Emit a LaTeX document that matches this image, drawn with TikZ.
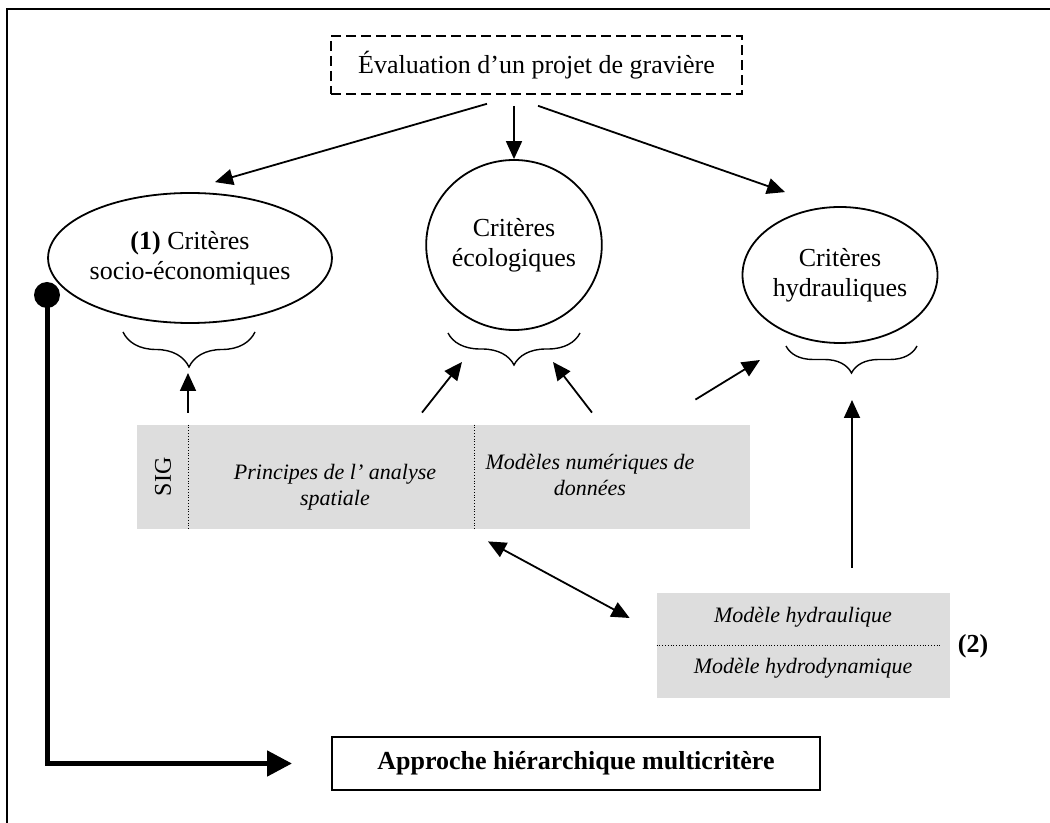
\documentclass[tikz,border=0pt]{standalone}
\usepackage{fontspec}
\setmainfont{Liberation Serif}
\usepackage{xcolor}
\definecolor{sigfill}{RGB}{221,221,221}
\usetikzlibrary{arrows.meta,positioning,shapes.geometric,decorations.pathreplacing,calc}
\tikzset{
  crit/.style={draw,ellipse,line width=0.9pt,inner sep=0pt,align=center,%
    font=\fontsize{13}{15}\selectfont},
  box/.style={draw,line width=0.9pt,inner sep=0pt,align=center,%
    font=\fontsize{13}{15}\selectfont},
  greybox/.style={fill=sigfill,inner sep=0pt},
  model/.style={font=\fontsize{11}{13}\selectfont\itshape,align=center,inner sep=0pt},
  flow/.style={-{Triangle[length=9pt,width=8pt]},line width=0.9pt},
  dflow/.style={{Triangle[length=9pt,width=8pt]}-{Triangle[length=9pt,width=8pt]},line width=0.9pt},
  bigflow/.style={-{Triangle[length=12.5pt,width=12.5pt]},line width=2.5pt},
  brc/.style={decorate,decoration={brace,mirror,amplitude=#1},line width=0.7pt},
}
\begin{document}
\begin{tikzpicture}[x=0.5pt,y=-0.5pt]
\useasboundingbox (0,0) rectangle (1050,823);
\draw[line width=1.2pt] (7,823) -- (7,9) -- (1050,9);

% criteres
\node[box,dash pattern=on 5pt off 2.5pt,line width=0.8pt,minimum width=205.5pt,minimum height=29pt] (eval) at (536.5,65) {Évaluation d’un projet de gravière};
\node[crit,minimum width=118pt,minimum height=65pt] (ell1) at (190,258) {\textbf{(1)} Critères\\socio-économiques};
\node[crit,minimum width=79pt,minimum height=85pt] (ell2) at (514,245) {Critères\\écologiques};
\node[crit,minimum width=97.5pt,minimum height=68pt] (ell3) at (840,275) {Critères\\hydrauliques};

\draw[brc=17.5pt] (123,332) -- (255,332);
\draw[brc=16pt] (448,333) -- (580,333);
\draw[brc=13.5pt] (786,346) -- (917,346);
\coordinate (b1) at (189,367);
\coordinate (b2) at (514,365);
\coordinate (b3) at (852,373);

% SIG
\node[greybox,minimum width=306.5pt,minimum height=52pt] (sig) at (443.5,477) {};
\draw[densely dotted] ([xshift=26pt]sig.north west) -- ([xshift=26pt]sig.south west);
\draw[densely dotted] ([xshift=169pt]sig.north west) -- ([xshift=169pt]sig.south west);
\node[rotate=90,font=\fontsize{12}{14}\selectfont] (sigl) at (163,477) {SIG};
\node[model] (anal) at (335,487) {Principes de l’ analyse\\spatiale};
\node[model] (mnd) at (590,475) {Modèles numériques de\\données};

% modeles
\node[greybox,minimum width=146.5pt,minimum height=52.5pt] (hyd) at (803.5,645.5) {};
\draw[densely dotted] (hyd.west) -- ([xshift=-5pt]hyd.east);
\node[model] (hydr) at (803,617) {Modèle hydraulique};
\node[model] (hydd) at (803,668) {Modèle hydrodynamique};
\node[font=\fontsize{13}{15}\selectfont\bfseries] (two) at (973,646) {(2)};

\node[box,line width=1pt,minimum width=244pt,minimum height=26.5pt,font=\fontsize{13}{15}\selectfont\bfseries] (appr) at (576,763.5) {Approche hiérarchique multicritère};
\node[circle,fill,inner sep=0pt,minimum size=13pt] (dot) at (47,295) {};

\draw[flow] ([shift={(-49.5,9)}]eval.south) -- ([shift={(25,-10)}]ell1.north);
\draw[flow] ([shift={(-22.5,11)}]eval.south) -- (ell2.north);
\draw[flow] ([shift={(1.5,11)}]eval.south) -- ([shift={(-55,-14)}]ell3.north);
\draw[flow] ([shift={(-255.5,-12)}]sig.north) -- ([shift={(-1,6)}]b1);
\draw[flow] ([shift={(-21.5,-12)}]sig.north) -- ([shift={(-52,-3)}]b2);
\draw[flow] ([shift={(148.5,-12)}]sig.north) -- ([shift={(39,-3)}]b2);
\draw[flow] ([shift={(-55,-25)}]sig.north east) -- ([shift={(-92,-13)}]b3);
\draw[flow] ([shift={(48.5,-25)}]hyd.north) -- ([shift={(0,27)}]b3);
\draw[dflow] ([shift={(44.5,12)}]sig.south) -- ([shift={(-27,-27.5)}]hyd.west);
\draw[bigflow] (dot.center) |- ([xshift=-19.5pt]appr.west);
\end{tikzpicture}
\end{document}
